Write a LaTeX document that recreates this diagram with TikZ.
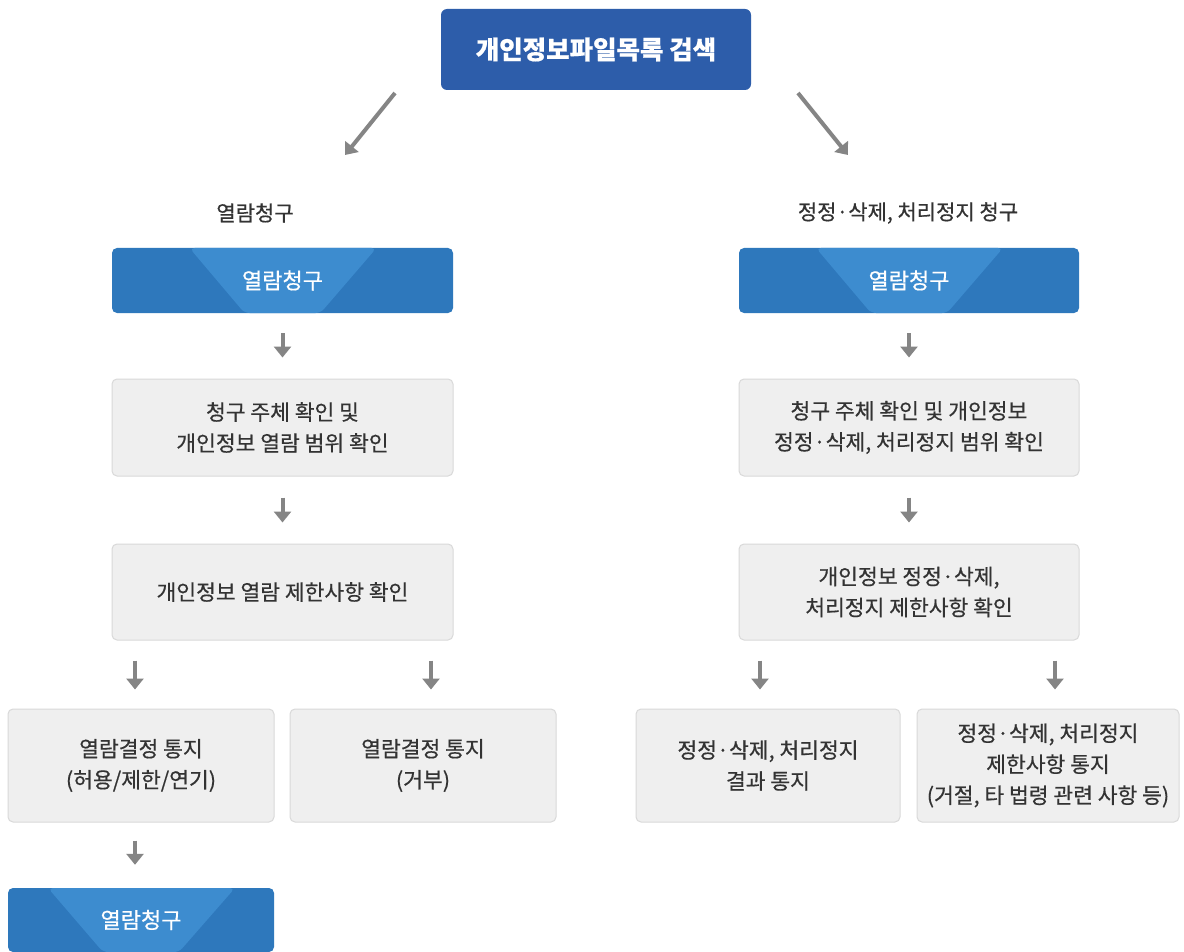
\documentclass[tikz,border=0pt]{standalone}
\usepackage{fontspec}
\setmainfont[FakeBold=0.5]{Noto Sans CJK KR}
\usetikzlibrary{arrows.meta,calc}
\definecolor{topblue}{HTML}{2D5DAA}
\definecolor{midblue}{HTML}{2E78BC}
\definecolor{lightblue}{HTML}{3D8CCF}
\definecolor{boxgrey}{HTML}{EFEFEF}
\definecolor{boxline}{HTML}{D9D9D9}
\definecolor{txt}{HTML}{333333}
\definecolor{arr}{HTML}{858585}
\tikzset{
  greybox/.style={draw=boxline, fill=boxgrey, rounded corners=5pt, line width=1pt, text=txt,
    align=center, font=\fontsize{21.5}{31}\selectfont, inner sep=0pt},
  bluebox/.style={fill=midblue, rounded corners=5pt, text=white, align=center,
    font=\fontsize{22}{31}\selectfont, inner sep=0pt, minimum height=65pt,
    path picture={\fill[lightblue] ($(path picture bounding box.north)+(-93pt,0)$) --
      ($(path picture bounding box.north)+(94pt,0)$) --
      ($(path picture bounding box.south)+(38pt,0)$) --
      ($(path picture bounding box.south)+(-38pt,0)$) -- cycle;}},
  toplabel/.style={text=txt, font=\fontsize{21}{24}\selectfont, inner sep=0pt},
  arrowline/.style={draw=arr, line width=4pt, -{Triangle[width=17pt,length=11pt]}},
}
\begin{document}
\begin{tikzpicture}[x=1pt,y=-1pt]
\clip (0,0) rectangle (1184,952);
\fill[white] (0,0) rectangle (1184,952);

\node[fill=topblue, rounded corners=6pt, text=white, inner sep=0pt,
  minimum width=310pt, minimum height=81pt, font=\fontsize{25.5}{28}\selectfont\bfseries]
  (top) at (596,49.5) {개인정보파일목록 검색};

\coordinate (dl1) at (395,93);
\coordinate (dl2) at (345,155);
\coordinate (dr1) at (798,93);
\coordinate (dr2) at (848,155);
\draw[arrowline] (dl1) -- (dl2);
\draw[arrowline] (dr1) -- (dr2);

\node[toplabel] (labL) at (255,213) {열람청구};
\node[toplabel] (labR) at (908,213) {정정·삭제, 처리정지 청구};

% left column
\node[bluebox, minimum width=341pt] (bL) at (282.5,280.5) {열람청구};
\node[greybox, minimum width=341pt, minimum height=97pt] (g1L) at (282.5,427.5)
  {청구 주체 확인 및\\개인정보 열람 범위 확인};
\node[greybox, minimum width=341pt, minimum height=96pt] (g2L) at (282.5,592)
  {개인정보 열람 제한사항 확인};
\node[greybox, minimum width=266pt, minimum height=113pt] (l1) at (141,765.5)
  {열람결정 통지\\(허용/제한/연기)};
\node[greybox, minimum width=266pt, minimum height=113pt] (l2) at (423,765.5)
  {열람결정 통지\\(거부)};
\node[bluebox, minimum width=266pt, minimum height=64pt] (bF) at (141,920)
  {열람청구};

% right column
\node[bluebox, minimum width=340pt] (bR) at (909,280.5) {열람청구};
\node[greybox, minimum width=340pt, minimum height=97pt] (g1R) at (909,427.5)
  {청구 주체 확인 및 개인정보\\정정·삭제, 처리정지 범위 확인};
\node[greybox, minimum width=340pt, minimum height=96pt] (g2R) at (909,592)
  {개인정보 정정·삭제,\\처리정지 제한사항 확인};
\node[greybox, minimum width=264pt, minimum height=113pt] (r1) at (768,765.5)
  {정정·삭제, 처리정지\\결과 통지};
\node[greybox, minimum width=262pt, minimum height=113pt] (r2) at (1048,765.5)
  {정정·삭제, 처리정지\\제한사항 통지\\(거절, 타 법령 관련 사항 등)};

% vertical arrows
\draw[arrowline] ([yshift=-20pt]bL.south) -- ([yshift=21pt]g1L.north);
\draw[arrowline] ([yshift=-21pt]g1L.south) -- ([yshift=21pt]g2L.north);
\draw[arrowline] ($(g2L.south -| l1.north)+(-6,20)$) -- ($(l1.north)+(-6,-19)$);
\draw[arrowline] ($(g2L.south -| l2.north)+(8,20)$) -- ($(l2.north)+(8,-19)$);
\draw[arrowline] ($(l1.south)+(-6,18)$) -- ($(bF.north)+(-6,-23)$);

\draw[arrowline] ([yshift=-20pt]bR.south) -- ([yshift=21pt]g1R.north);
\draw[arrowline] ([yshift=-21pt]g1R.south) -- ([yshift=21pt]g2R.north);
\draw[arrowline] ($(g2R.south -| r1.north)+(-8,20)$) -- ($(r1.north)+(-8,-19)$);
\draw[arrowline] ($(g2R.south -| r2.north)+(7,20)$) -- ($(r2.north)+(7,-19)$);
\end{tikzpicture}
\end{document}
